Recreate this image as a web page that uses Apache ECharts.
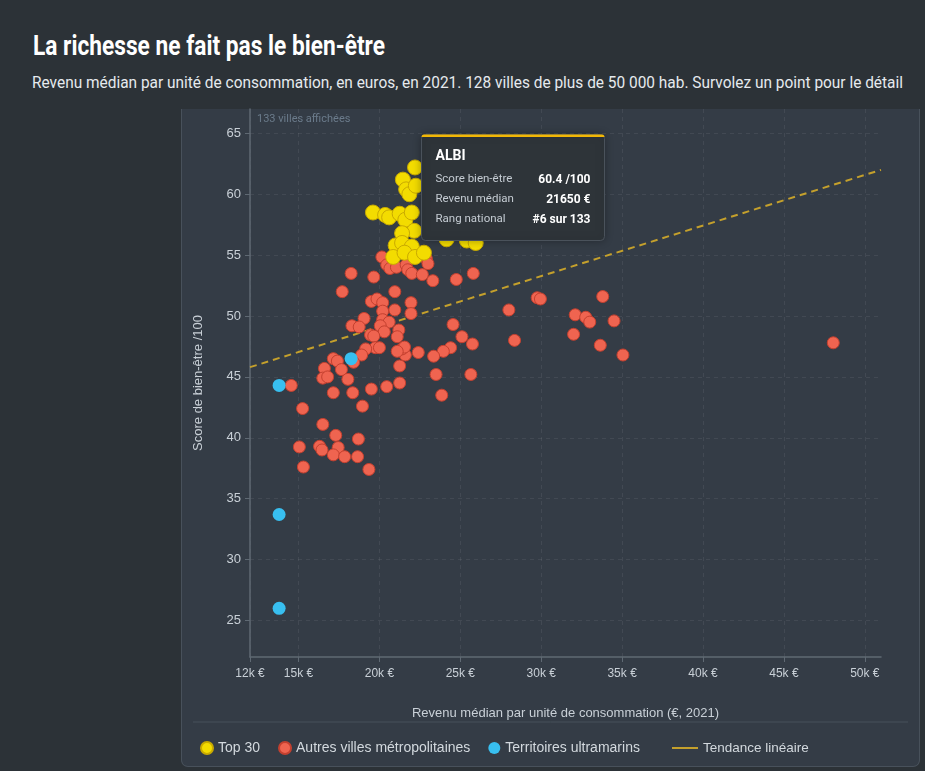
<!DOCTYPE html>
<html><head><meta charset="utf-8">
<script src="https://cdn.jsdelivr.net/npm/echarts@6/dist/echarts.min.js"></script>
<style>
html,body{margin:0;padding:0;background:#2c3237;width:925px;height:771px;overflow:hidden;font-family:Roboto,'Noto Sans',sans-serif;}
#title{position:absolute;left:33px;top:30px;color:#ffffff;font-weight:700;font-size:27px;white-space:nowrap;transform-origin:0 0;font-family:'Liberation Sans Narrow',Roboto,sans-serif;}
#subtitle{position:absolute;left:32px;top:73px;color:#e6eaee;font-size:16px;white-space:nowrap;transform-origin:0 0;}
#panel{position:absolute;left:181px;top:109px;width:737px;height:657px;background:#343c46;border:1px solid #48515b;border-top:none;border-radius:0 0 7px 7px;}
#chart{position:absolute;left:0;top:0;width:925px;height:771px;}
</style></head>
<body>
<div id="title">La richesse ne fait pas le bien-être</div>
<div id="subtitle">Revenu médian par unité de consommation, en euros, en 2021. 128 villes de plus de 50 000 hab. Survolez un point pour le détail</div>
<div id="panel"></div>
<div id="chart"></div>
<script>
// ---- data (revenu médian en €, score bien-être /100) ----
const top30Points = [
  [22200,62.2],[21450,61.2],[21650,60.4],[21850,60.0],[22250,60.7],
  [19600,58.5],[20350,58.3],[20600,58.1],[21250,58.4],[21600,57.9],
  [22000,58.5],[22150,57.0],[21400,56.8],[21000,55.8],[21400,56.0],
  [22000,55.7],[20850,54.85],[21550,55.2],[22200,54.85],[22750,55.2],
  [24150,56.3],[25400,56.2],[25950,56.0],[23100,61.0],[24000,60.5],
  [23500,58.0],[23100,57.3],[24600,57.5],[23300,56.9],[23800,59.3]
];
const autresPoints = [
  [20150,54.85],[20450,54.2],[20650,53.9],[21050,54.0],[21650,54.2],[21750,53.8],[22000,53.5],[22650,53.4],
  [22900,54.7],[23000,54.3],[23300,52.9],[24750,53.0],[25800,53.5],[18250,53.5],[19650,53.2],[17700,52.0],[20950,52.0],
  [19500,51.2],[19850,51.4],[20200,51.1],[21950,51.1],[20200,50.4],[20950,50.5],[21950,50.2],[19050,49.8],
  [20200,49.7],[20600,49.5],[18300,49.2],[18750,49.1],[20050,49.2],[24550,49.3],[28000,50.5],[29750,51.5],
  [29950,51.4],[32100,50.1],[32750,49.9],[33000,49.5],[33800,51.6],[34500,49.6],
  [20300,48.7],[21200,48.85],[19450,48.45],[19650,48.35],[21100,48.3],[25100,48.3],[25750,47.7],[24400,47.4],
  [23950,47.1],[23350,46.7],[22400,47.0],[21600,46.8],[21400,47.3],[21550,47.45],[21100,47.1],[19750,47.4],
  [20000,47.4],[19150,47.3],[18900,46.8],[28350,48.0],[32000,48.5],[33650,47.6],[35050,46.8],[48050,47.8],
  [17150,46.5],[17400,46.3],[18400,46.2],[16600,45.7],[17650,45.6],[16500,44.9],[16800,45.0],[18050,44.8],
  [21250,45.9],[23500,45.2],[25650,45.2],[21250,44.5],[20450,44.2],[19500,44.0],[14550,44.3],[17150,43.7],
  [18350,43.7],[18950,42.6],[23850,43.5],
  [15250,42.4],[16500,41.1],[17300,40.2],[18700,39.9],[15050,39.25],[16300,39.3],[16450,39.0],[17450,39.2],
  [17150,38.6],[17850,38.45],[18650,38.45],[15300,37.6],[19350,37.4]
];
const ultramarinPoints = [[13800,44.3],[18250,46.5],[13800,33.7],[13800,26.0]];
const trendLine = [[12000,45.8],[51000,62.0]];
const xTicks = [12000,15000,20000,25000,30000,35000,40000,45000,50000];
const yTicks = [25,30,35,40,45,50,55,60,65];
const seriesNames = ['Top 30','Autres villes métropolitaines','Territoires ultramarins','Tendance linéaire'];
const totalCities = 133;
const albi = {name:'ALBI', score:60.4, revenue:21650, rank:6};

function fit(id,w){const el=document.getElementById(id);const cw=el.getBoundingClientRect().width;el.style.transform='scaleX('+(w/cw)+')';}
fit('title',352); fit('subtitle',871);

const chart = echarts.init(document.getElementById('chart'));
const axisCol = '#5f6973', labCol = '#c9d0d7';
const TZ = 200;
chart.setOption({
  animation:false,
  backgroundColor:'transparent',
  grid:{left:250, top:109, right:44, bottom:114, containLabel:false},
  xAxis:{
    type:'value', min:12000, max:51000, splitNumber:8,
    axisLine:{show:true, lineStyle:{color:axisCol, width:1.5}},
    axisTick:{show:true, length:5, lineStyle:{color:axisCol}, customValues:xTicks},
    axisLabel:{color:labCol, fontSize:12, margin:11, customValues:xTicks, formatter:v=>(v/1000)+'k €'},
    splitLine:{show:true, lineStyle:{color:'rgba(255,255,255,0.07)', type:[4,4]}},
    name:'Revenu médian par unité de consommation (€, 2021)', nameLocation:'middle', nameGap:50,
    nameTextStyle:{color:labCol, fontSize:13}
  },
  yAxis:{
    type:'value', min:22, max:67, splitNumber:9,
    axisLine:{show:true, lineStyle:{color:axisCol, width:1.5}},
    axisTick:{show:true, length:5, lineStyle:{color:axisCol}, customValues:yTicks},
    axisLabel:{color:labCol, fontSize:13, margin:9, customValues:yTicks},
    splitLine:{show:true, lineStyle:{color:'rgba(255,255,255,0.07)', type:[4,4]}},
    name:'Score de bien-être /100', nameLocation:'middle', nameGap:45,
    nameTextStyle:{color:labCol, fontSize:13}
  },
  legend:[
    {left:195, top:736, itemWidth:12, itemHeight:12, itemGap:18, icon:'circle',
     textStyle:{color:'#d3d9de', fontSize:14}, data:[seriesNames[0],seriesNames[1],seriesNames[2]], selectedMode:false},
    {left:667, top:736, itemWidth:26, itemHeight:2, itemGap:10,
     textStyle:{color:'#d3d9de', fontSize:13.5}, data:[{name:seriesNames[3], icon:'rect'}], selectedMode:false}
  ],
  graphic:[
    {type:'line', shape:{x1:193,y1:722,x2:908,y2:722}, style:{stroke:'#46505a', lineWidth:1}, silent:true},
    {type:'text', left:257, top:114, style:{text:totalCities+' villes affichées', fill:'#6b7b8b', font:'11px Roboto'}, silent:true},
    {type:'group', left:421, top:134, z:TZ, zlevel:1, silent:true, children:[
      {type:'rect', z:TZ, zlevel:1, shape:{x:0,y:0,width:183,height:106,r:4}, style:{fill:'#2e3439', stroke:'#4a525b', lineWidth:1, shadowBlur:8, shadowColor:'rgba(0,0,0,0.3)'}},
      {type:'rect', z:TZ+1, zlevel:1, shape:{x:0,y:0,width:183,height:2.5,r:[4,4,0,0]}, style:{fill:'#f2b705'}},
      {type:'text', z:TZ+1, zlevel:1, x:14, y:22, style:{text:albi.name, fill:'#ffffff', font:'bold 14px Roboto', verticalAlign:'middle'}},
      {type:'text', z:TZ+1, zlevel:1, x:14, y:45, style:{text:'Score bien-être', fill:'#c5ccd3', font:'11.5px Roboto', verticalAlign:'middle'}},
      {type:'text', z:TZ+1, zlevel:1, x:14, y:65, style:{text:'Revenu médian', fill:'#c5ccd3', font:'11.5px Roboto', verticalAlign:'middle'}},
      {type:'text', z:TZ+1, zlevel:1, x:14, y:85, style:{text:'Rang national', fill:'#c5ccd3', font:'11.5px Roboto', verticalAlign:'middle'}},
      {type:'text', z:TZ+1, zlevel:1, x:169, y:45, style:{text:albi.score.toFixed(1)+' /100', fill:'#ffffff', font:'bold 12px Roboto', align:'right', verticalAlign:'middle'}},
      {type:'text', z:TZ+1, zlevel:1, x:169, y:65, style:{text:albi.revenue+' €', fill:'#ffffff', font:'bold 12px Roboto', align:'right', verticalAlign:'middle'}},
      {type:'text', z:TZ+1, zlevel:1, x:169, y:85, style:{text:'#'+albi.rank+' sur '+totalCities, fill:'#ffffff', font:'bold 12px Roboto', align:'right', verticalAlign:'middle'}}
    ]}
  ],
  series:[
    {name:seriesNames[3], type:'line', data:trendLine, showSymbol:false, symbol:'none', silent:true,
     itemStyle:{color:'#c4a02c'}, lineStyle:{color:'#c4a02c', width:2, type:[7,5]}, z:1},
    {name:seriesNames[1], type:'scatter', data:autresPoints, symbolSize:12, z:2,
     itemStyle:{color:'#ef6450', borderColor:'#c4402f', borderWidth:1, opacity:1}},
    {name:seriesNames[2], type:'scatter', data:ultramarinPoints, symbolSize:13, z:3,
     itemStyle:{color:'#38bff0', opacity:1}},
    {name:seriesNames[0], type:'scatter', data:top30Points, symbolSize:15, z:4,
     itemStyle:{color:'#f3dc00', borderColor:'#c9aa00', borderWidth:1, opacity:1}}
  ]
});
</script>
</body></html>
